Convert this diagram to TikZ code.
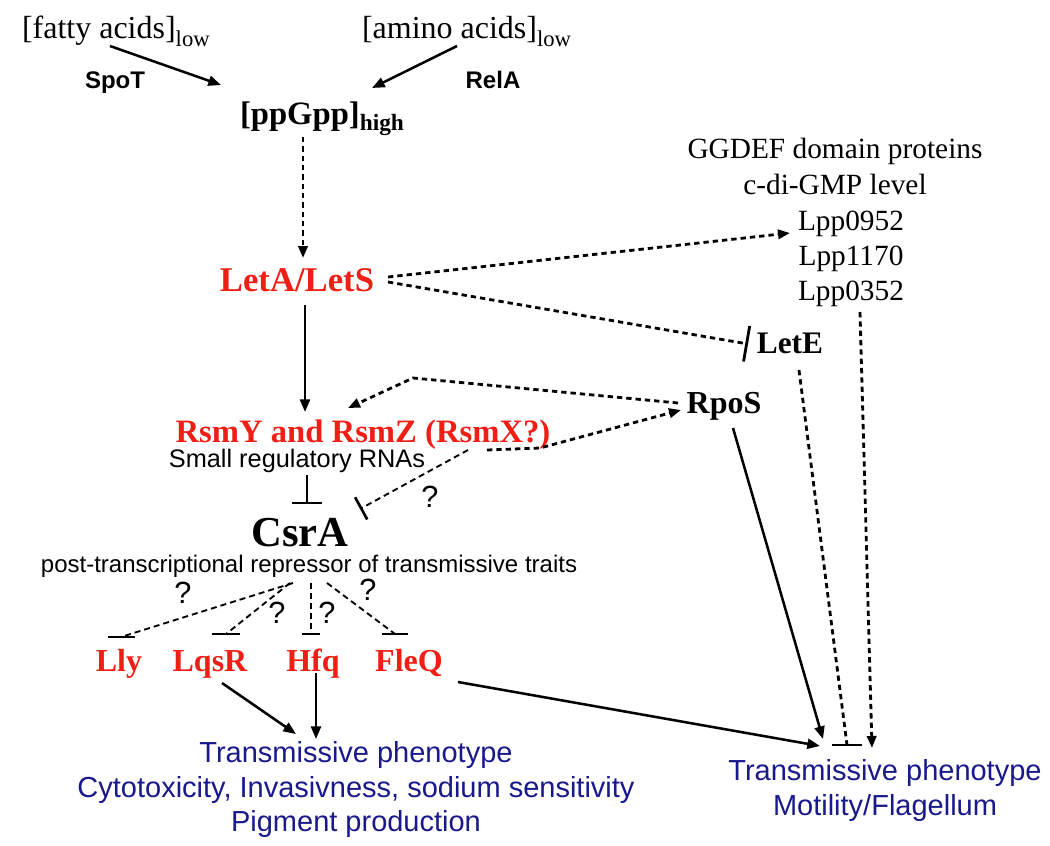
\documentclass[tikz,border=0pt]{standalone}
\usepackage{fontspec}
\setmainfont{Liberation Serif}
\setsansfont{Liberation Sans}
\usetikzlibrary{arrows.meta,calc}
\definecolor{redlab}{RGB}{240,30,20}
\definecolor{bluelab}{RGB}{25,25,140}
\begin{document}
\begin{tikzpicture}[x=0.75pt,y=-0.75pt,
  every node/.style={inner sep=0pt,outer sep=0pt},
  serif/.style={anchor=base,font=\fontsize{24}{28}\selectfont},
  enz/.style={anchor=base,font=\sffamily\bfseries\fontsize{18}{21}\selectfont},
  redlab/.style={anchor=base,text=redlab,font=\bfseries\fontsize{24}{28}\selectfont},
  blacklab/.style={anchor=base,font=\bfseries\fontsize{24}{28}\selectfont},
  sanslab/.style={anchor=base,font=\sffamily\fontsize{18.5}{22}\selectfont},
  bluelab/.style={anchor=base,text=bluelab,font=\sffamily\fontsize{21.75}{26}\selectfont},
  qmark/.style={anchor=center,font=\sffamily\fontsize{23}{26}\selectfont},
  gene/.style={anchor=base,font=\fontsize{22}{26}\selectfont},
  solidarrow/.style={line width=1.9pt,-{Triangle[length=9.5pt,width=7.5pt]}},
  dotarrow/.style={line width=2.1pt,dash pattern=on 4pt off 3pt,-{Triangle[length=9pt,width=7pt]}},
  dotline/.style={line width=2.1pt,dash pattern=on 4pt off 3pt},
  thindash/.style={line width=1.4pt,dash pattern=on 4.5pt off 3pt},
  barline/.style={line width=2.1pt},
]
\useasboundingbox (0,0) rectangle (1050,846);

% ---- texts ----
\node[serif,anchor=base west] (fatty) at (22,38) {[fatty acids]\raisebox{-6.5pt}{\fontsize{17}{17}\selectfont low}};
\node[serif,anchor=base west] (amino) at (362,38) {[amino acids]\raisebox{-6.5pt}{\fontsize{17}{17}\selectfont low}};
\node[enz] (spot) at (115,88) {SpoT};
\node[enz] (rela) at (493,88) {RelA};
\node[serif,anchor=base west,font=\bfseries\fontsize{24.5}{28}\selectfont] (ppgpp) at (240,124) {[ppGpp]\raisebox{-5pt}{\fontsize{17.5}{17}\selectfont high}};
\node[redlab,font=\bfseries\fontsize{26}{30}\selectfont] (letas) at (297,291) {LetA/LetS};
\node[redlab,font=\bfseries\fontsize{24.5}{28}\selectfont] (rsm) at (363,442) {RsmY and RsmZ (RsmX?)};
\node[sanslab,font=\sffamily\fontsize{19}{22}\selectfont] (small) at (297,467) {Small regulatory RNAs};
\node[blacklab,font=\bfseries\fontsize{32}{36}\selectfont] (csra) at (300,546) {CsrA};
\node[sanslab,font=\sffamily\fontsize{18}{22}\selectfont] (post) at (309,572) {post-transcriptional repressor of transmissive traits};
\node[redlab] (lly) at (119,671) {Lly};
\node[redlab] (lqsr) at (210,671) {LqsR};
\node[redlab] (hfq) at (313,671) {Hfq};
\node[redlab] (fleq) at (409,671) {FleQ};
\node[blacklab] (rpos) at (724,413) {RpoS};
\node[blacklab,font=\bfseries\fontsize{23.5}{27}\selectfont] (lete) at (790,353) {LetE};
\node[gene] (ggdef) at (835,158) {GGDEF domain proteins};
\node[gene] (cdigmp) at (835,194) {c-di-GMP level};
\node[gene] (lpp1) at (851,230) {Lpp0952};
\node[gene] (lpp2) at (851,265) {Lpp1170};
\node[gene] (lpp3) at (851,300) {Lpp0352};
\node[bluelab] (phenA1) at (356,762) {Transmissive phenotype};
\node[bluelab] (phenA2) at (356,797) {Cytotoxicity, Invasivness, sodium sensitivity};
\node[bluelab] (phenA3) at (356,831) {Pigment production};
\node[bluelab] (phenB1) at (885,780) {Transmissive phenotype};
\node[bluelab] (phenB2) at (885,815) {Motility/Flagellum};
\node[qmark] (q0) at (430,497) {?};
\node[qmark] (q1) at (183,593) {?};
\node[qmark] (q2) at (277,613) {?};
\node[qmark] (q3) at (327,613) {?};
\node[qmark] (q4) at (368,590) {?};

% ---- connector end points ----
\coordinate (fattyE) at (110,46);   \coordinate (ppgA) at (221,85);
\coordinate (aminoE) at (457,46);   \coordinate (ppgB) at (372,88);
\coordinate (ppgS) at (303,137);    \coordinate (letasN) at (303,258);
\coordinate (letasS) at (305,305);  \coordinate (rsmN) at (305,412);
\coordinate (letasE1) at (388,277); \coordinate (lppW) at (790,233);
\coordinate (letasE2) at (388,282); \coordinate (leteW) at (748,344);
\coordinate (rposW1) at (678,403);  \coordinate (peak) at (413,378); \coordinate (rsmNE) at (348,408);
\coordinate (rsmE) at (487,450);    \coordinate (bend) at (540,448); \coordinate (rposW2) at (681,410);
\coordinate (rsmSE) at (468,450);   \coordinate (csraNE) at (360,509);
\coordinate (smallS) at (307,475);  \coordinate (csraN) at (307,503);
\coordinate (csraS1) at (293,583);  \coordinate (llyN) at (121,637);
\coordinate (csraS2) at (290,583);  \coordinate (lqsrN) at (226,634);
\coordinate (csraS3) at (311,583);  \coordinate (hfqN) at (311,634);
\coordinate (csraS4) at (327,583);  \coordinate (fleqN) at (395,634);
\coordinate (lqsrS) at (222,683);   \coordinate (phenAN1) at (296,734);
\coordinate (hfqS) at (316,673);    \coordinate (phenAN2) at (316,739);
\coordinate (fleqE) at (458,682);   \coordinate (phenBN1) at (820,746);
\coordinate (rposS) at (733,428);   \coordinate (phenBN2) at (823,739);
\coordinate (leteS) at (799,370);   \coordinate (phenBN3) at (847,745);
\coordinate (lppS) at (860,312);    \coordinate (phenBN4) at (872,748);

% ---- connectors ----
\draw[solidarrow] (fattyE) -- (ppgA);
\draw[solidarrow] (aminoE) -- (ppgB);
\draw[dotarrow] (ppgS) -- (letasN);
\draw[solidarrow] (letasS) -- (rsmN);
\draw[dotarrow] (letasE1) -- (lppW);
\draw[dotline,-{Bar[width=27pt,line width=2.1pt]}] (letasE2) -- (leteW);
\draw[dotarrow] (rposW1) -- (peak) -- (rsmNE);
\draw[dotarrow] (rsmE) -- (bend) -- (rposW2);
\draw[thindash,-{Bar[width=19pt,line width=2pt]}] (rsmSE) -- (csraNE);
\draw[line width=1.7pt] (smallS) -- (csraN);
\draw[barline] ($(csraN)+(-15,0)$) -- ($(csraN)+(15,0)$);
\draw[thindash] (csraS1) -- (llyN);
\draw[barline] ($(llyN)+(-13,0)$) -- ($(llyN)+(14,0)$);
\draw[thindash] (csraS2) -- (lqsrN);
\draw[barline] ($(lqsrN)+(-14,0)$) -- ($(lqsrN)+(14,0)$);
\draw[thindash] (csraS3) -- (hfqN);
\draw[barline] ($(hfqN)+(-9,0)$) -- ($(hfqN)+(9,0)$);
\draw[thindash] (csraS4) -- (fleqN);
\draw[barline] ($(fleqN)+(-13,0)$) -- ($(fleqN)+(13,0)$);
\draw[solidarrow] (lqsrS) -- (phenAN1);
\draw[solidarrow] (hfqS) -- (phenAN2);
\draw[solidarrow] (fleqE) -- (phenBN1);
\draw[solidarrow] (rposS) -- (phenBN2);
\draw[dotline] (leteS) -- (phenBN3);
\draw[barline] ($(phenBN3)+(-15,0)$) -- ($(phenBN3)+(15,0)$);
\draw[dotarrow] (lppS) -- (phenBN4);
\end{tikzpicture}
\end{document}
